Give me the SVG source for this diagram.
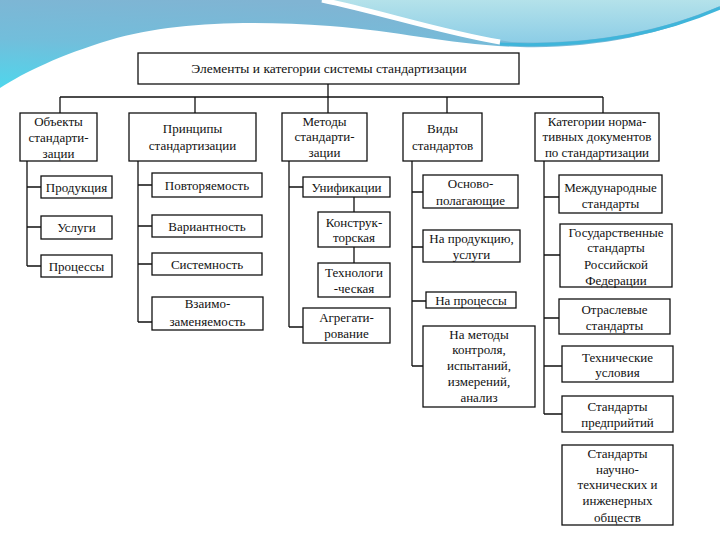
<svg xmlns="http://www.w3.org/2000/svg" width="720" height="540" viewBox="0 0 720 540">
<style>
.box{fill:#ffffff;stroke:#111111;stroke-width:1.3}
.t{font-family:'Times New Roman','Liberation Serif',Tinos,'DejaVu Serif',serif;font-size:13px;fill:#111111;text-anchor:middle}
.ttl{font-size:13.5px}
.c{fill:none;stroke:#111111;stroke-width:1.3}
</style>
<defs>
<linearGradient id="gA" x1="0" y1="1" x2="0.35" y2="0">
<stop offset="0" stop-color="#4fd6ec"/>
<stop offset="0.5" stop-color="#72bedb"/>
<stop offset="1" stop-color="#80b4d3"/>
</linearGradient>
<linearGradient id="gB" x1="0" y1="0" x2="0" y2="1">
<stop offset="0" stop-color="#b4e2ea"/>
<stop offset="1" stop-color="#8ccde6"/>
</linearGradient>
</defs>
<rect x="0" y="0" width="720" height="540" fill="#ffffff"/>
<g id="background">
<path d="M0,0 H720 V8 C660,36 590,49 520,47 C450,45 400,31 330,26 C250,20 170,22 110,40 C60,55 25,72 0,88 Z" fill="url(#gA)"/>
<path d="M320,0 H720 V6 C660,32 590,45 512,42 C440,32 380,12 320,0 Z" fill="url(#gB)"/>
<path d="M322,0 C380,12 440,32 500,42" fill="none" stroke="#ffffff" stroke-width="5"/>
<path d="M500,44 C590,48 660,34 720,8" fill="none" stroke="#3fb5da" stroke-width="3"/>
</g>
<g id="connectors">
<path class="c" d="M328,84 V97 M60,97 H603 M60,97 V113 M195,97 V113 M328,97 V113 M447,97 V113 M603,97 V113"/>
<path class="c" d="M27,161 V266 M27,187 H41 M27,227 H41 M27,266 H41"/>
<path class="c" d="M138,161 V322 M138,185 H152 M138,226 H152 M138,264 H152 M138,322 H152"/>
<path class="c" d="M289,161 V327 M289,187 H303 M289,327 H303 M354,197 V212 M354,247 V263"/>
<path class="c" d="M412,161 V366 M412,192 H423 M412,247 H423 M412,301 H426 M412,366 H423"/>
<path class="c" d="M544,161 V414 M544,197 H559 M544,255 H560 M544,318 H559 M544,366 H562 M544,414 H562"/>
</g>
<g id="title">
<rect class="box" x="138" y="53" width="381" height="31"/>
<text class="t ttl" x="329" y="73">Элементы и категории системы стандартизации</text>
</g>
<g id="col1">
<rect class="box" x="20" y="113" width="77" height="48"/>
<text class="t"><tspan x="58.5" y="126">Объекты</tspan><tspan x="58.5" y="142">стандарти-</tspan><tspan x="58.5" y="158">зации</tspan></text>
</g>
<g id="col2">
<rect class="box" x="129" y="113" width="127" height="48"/>
<text class="t"><tspan x="192.5" y="133">Принципы</tspan><tspan x="192.5" y="150">стандартизации</tspan></text>
</g>
<g id="col3">
<rect class="box" x="282" y="113" width="85" height="48"/>
<text class="t"><tspan x="324.5" y="126">Методы</tspan><tspan x="324.5" y="141">стандарти-</tspan><tspan x="324.5" y="157">зации</tspan></text>
</g>
<g id="col4">
<rect class="box" x="403" y="113" width="79" height="48"/>
<text class="t"><tspan x="442.5" y="133">Виды</tspan><tspan x="442.5" y="150">стандартов</tspan></text>
</g>
<g id="col5">
<rect class="box" x="535" y="113" width="124" height="48"/>
<text class="t"><tspan x="597" y="126">Категории норма-</tspan><tspan x="597" y="141">тивных документов</tspan><tspan x="597" y="157">по стандартизации</tspan></text>
</g>
<g id="n-produkciya"><rect class="box" x="41" y="176" width="71" height="22"/><text class="t" x="76.5" y="191.5">Продукция</text></g>
<g id="n-uslugi"><rect class="box" x="41" y="216" width="71" height="23"/><text class="t" x="76.5" y="231.5">Услуги</text></g>
<g id="n-processy"><rect class="box" x="41" y="255" width="71" height="22"/><text class="t" x="76.5" y="270.5">Процессы</text></g>
<g id="n-povtor"><rect class="box" x="152" y="173" width="110" height="24"/><text class="t" x="207" y="189.5">Повторяемость</text></g>
<g id="n-variant"><rect class="box" x="152" y="215" width="110" height="22"/><text class="t" x="207" y="230.5">Вариантность</text></g>
<g id="n-sistem"><rect class="box" x="152" y="253" width="110" height="22"/><text class="t" x="207" y="268.5">Системность</text></g>
<g id="n-vzaimo"><rect class="box" x="152" y="297" width="111" height="33"/><text class="t"><tspan x="207.5" y="307.5">Взаимо-</tspan><tspan x="207.5" y="325.5">заменяемость</tspan></text></g>
<g id="n-unif"><rect class="box" x="303" y="177" width="87" height="20"/><text class="t" x="346.5" y="191.5">Унификации</text></g>
<g id="n-konstr"><rect class="box" x="318" y="212" width="72" height="35"/><text class="t"><tspan x="354" y="226.5">Конструк-</tspan><tspan x="354" y="241.5">торская</tspan></text></g>
<g id="n-tehnol"><rect class="box" x="318" y="263" width="72" height="34"/><text class="t"><tspan x="354" y="276.5">Технологи</tspan><tspan x="354" y="292.5">-ческая</tspan></text></g>
<g id="n-agreg"><rect class="box" x="303" y="308" width="87" height="35"/><text class="t"><tspan x="346.5" y="321.5">Агрегати-</tspan><tspan x="346.5" y="337.5">рование</tspan></text></g>
<g id="n-osnovo"><rect class="box" x="423" y="175" width="95" height="33"/><text class="t"><tspan x="470.5" y="188">Осново-</tspan><tspan x="470.5" y="204.5">полагающие</tspan></text></g>
<g id="n-naprod"><rect class="box" x="423" y="230" width="97" height="32"/><text class="t"><tspan x="471.5" y="242.5">На продукцию,</tspan><tspan x="471.5" y="258.5">услуги</tspan></text></g>
<g id="n-naproc"><rect class="box" x="426" y="292" width="90" height="16"/><text class="t" x="471" y="304.5">На процессы</text></g>
<g id="n-nametody"><rect class="box" x="423" y="326" width="112" height="81"/><text class="t"><tspan x="479" y="338.5">На методы</tspan><tspan x="479" y="353.5">контроля,</tspan><tspan x="479" y="370">испытаний,</tspan><tspan x="479" y="386">измерений,</tspan><tspan x="479" y="402">анализ</tspan></text></g>
<g id="n-mezhd"><rect class="box" x="559" y="175" width="103" height="38"/><text class="t"><tspan x="610.5" y="191.5">Международные</tspan><tspan x="610.5" y="207.5">стандарты</tspan></text></g>
<g id="n-gosud"><rect class="box" x="560" y="224" width="112" height="63"/><text class="t"><tspan x="616" y="236.5">Государственные</tspan><tspan x="616" y="252">стандарты</tspan><tspan x="616" y="268.5">Российской</tspan><tspan x="616" y="284.5">Федерации</tspan></text></g>
<g id="n-otrasl"><rect class="box" x="559" y="299" width="111" height="35"/><text class="t"><tspan x="614.5" y="313.5">Отраслевые</tspan><tspan x="614.5" y="329.5">стандарты</tspan></text></g>
<g id="n-tehusl"><rect class="box" x="562" y="346" width="111" height="36"/><text class="t"><tspan x="617.5" y="361.5">Технические</tspan><tspan x="617.5" y="376.5">условия</tspan></text></g>
<g id="n-predpr"><rect class="box" x="562" y="396" width="111" height="36"/><text class="t"><tspan x="617.5" y="410.5">Стандарты</tspan><tspan x="617.5" y="426.5">предприйтий</tspan></text></g>
<g id="n-nauchno"><rect class="box" x="562" y="445" width="111" height="80"/><text class="t"><tspan x="617.5" y="457.5">Стандарты</tspan><tspan x="617.5" y="473.5">научно-</tspan><tspan x="617.5" y="489">технических и</tspan><tspan x="617.5" y="505">инженерных</tspan><tspan x="617.5" y="521.5">обществ</tspan></text></g>
</svg>
